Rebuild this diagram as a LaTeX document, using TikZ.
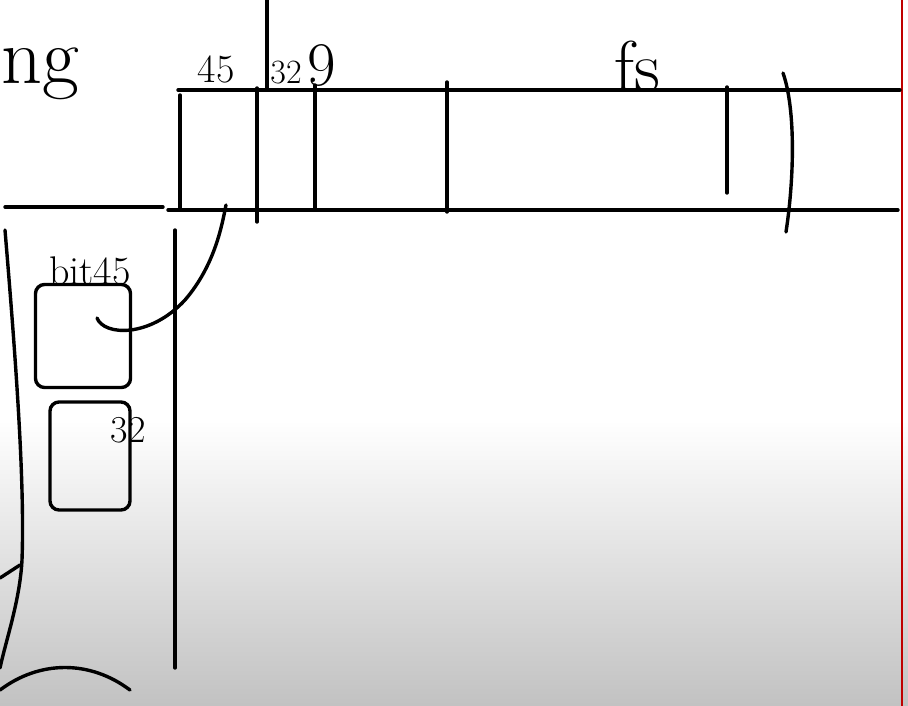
\documentclass[tikz,border=0pt]{standalone}
\begin{document}
\begin{tikzpicture}[x=1pt,y=-1pt,
  pen/.style={line width=3.4pt,line cap=round,line join=round},
  ink/.style={inner sep=0pt,font=\fontsize{40}{40}\selectfont},
  slot/.style={pen,draw,rounded corners=9pt,inner sep=0pt}]
\useasboundingbox (0,0) rectangle (908,706);
% 背景
\fill[white] (0,0) rectangle (908,421);
\shade[top color=white,bottom color=black!24] (0,420) rectangle (908,706);
\draw[red!75!black,line width=2pt] (902,0) -- (902,706);
\node[ink,font=\fontsize{80}{80}\selectfont,anchor=base west] (ng) at (1,84) {ng};
% 上面的数组
\draw[pen] (267,0) -- (267,88);
\draw[pen] (178,90) -- (900,90);
\draw[pen] (168,210) -- (898,210);
\draw[pen] (5,207) -- (163,207);
\foreach \x/\a/\b in {180/95/208, 257/88/222, 315/85/208, 447/82/212, 727/87/193}
  \draw[pen] (\x,\a) -- (\x,\b);
\draw[pen] (783,73) .. controls (796,110) and (794,180) .. (786,232);
\node[ink,anchor=base] (n45) at (216,83) {45};
\node[ink,font=\fontsize{34}{34}\selectfont,anchor=base] (n32a) at (286,84) {32};
\node[ink,font=\fontsize{62}{62}\selectfont,anchor=base] (n9) at (322,86) {9};
\node[ink,font=\fontsize{72}{72}\selectfont,anchor=base] (fs) at (637,92) {fs};
\coordinate (c45) at (226,205);
% 左边一列
\draw[pen] (175,230) -- (175,668);
\draw[pen] (5,230) .. controls (15,350) and (25,480) .. (22,560) .. controls (20,600) and (6,640) .. (0,668);
\draw[pen] (0,578) -- (20,565);
\draw[pen] (0,690) .. controls (40,660) and (90,660) .. (130,690);
\node[slot,minimum width=95pt,minimum height=103pt] (b45) at (83,336) {};
\node[ink,anchor=base] (bit45) at (90,284) {bit45};
\node[slot,minimum width=80pt,minimum height=108pt] (b32) at (90,456) {};
\node[ink,font=\fontsize{38}{38}\selectfont,anchor=base] (n32) at (128,442) {32};
\coordinate (hook) at (97,318);
\draw[pen] (hook) .. controls (104,336) and (150,338) .. (185,300) .. controls (215,265) and (222,225) .. (c45);
\end{tikzpicture}
\end{document}
